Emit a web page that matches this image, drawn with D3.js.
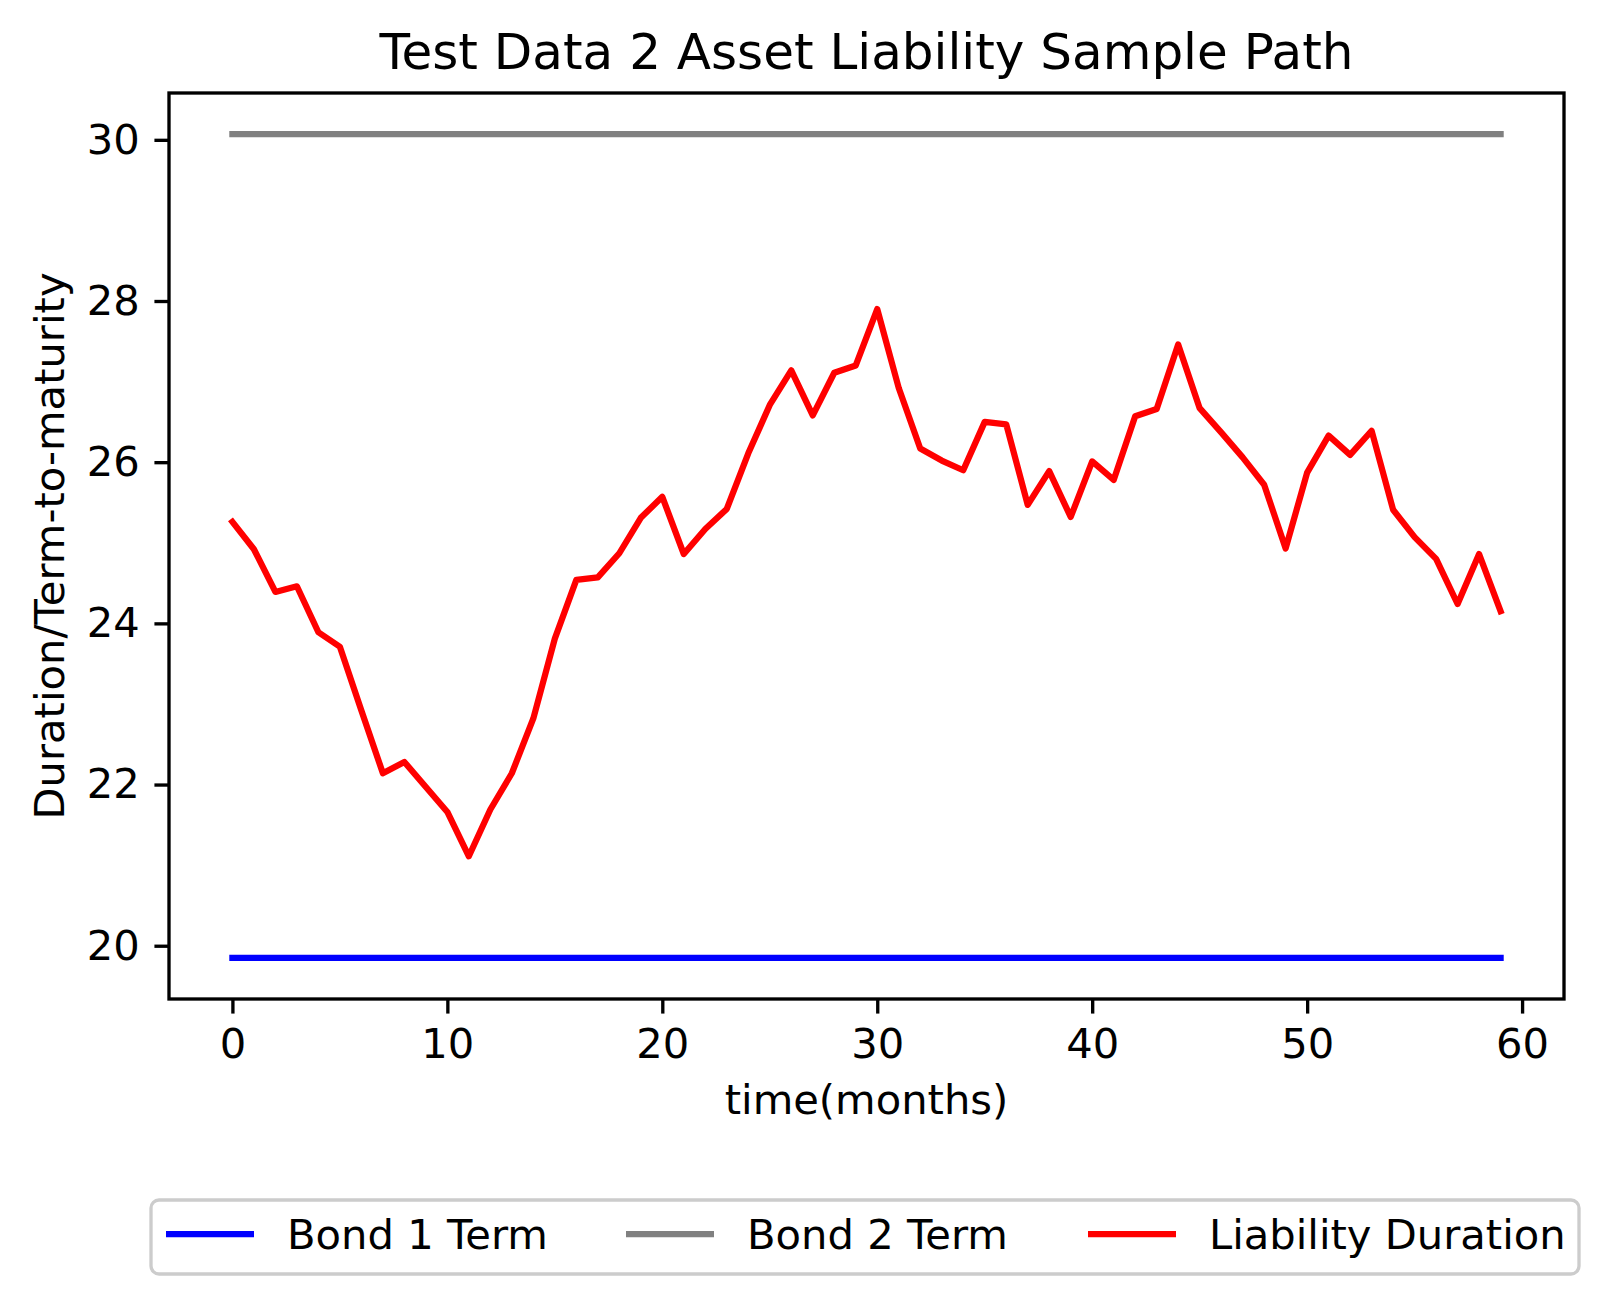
<!DOCTYPE html>
<html>
<head>
<meta charset="utf-8">
<script src="https://cdn.jsdelivr.net/npm/d3@7"></script>
<style>
  body { margin: 0; background: #fff; }
  text { font-family: "DejaVu Sans", sans-serif; fill: #000; }
</style>
</head>
<body>
<div id="chart"></div>
<script>
// data
const months = [0, 1, 2, 3, 4, 5, 6, 7, 8, 9, 10, 11, 12, 13, 14, 15, 16, 17, 18, 19,
    20, 21, 22, 23, 24, 25, 26, 27, 28, 29, 30, 31, 32, 33, 34, 35, 36, 37, 38, 39,
    40, 41, 42, 43, 44, 45, 46, 47, 48, 49, 50, 51, 52, 53, 54, 55, 56, 57, 58, 59];
const bond1Term = 19.85;
const bond2Term = 30.07;
const liabilityDuration = [25.26, 24.92, 24.39, 24.46, 23.89, 23.71, 22.92, 22.14, 22.28, 21.97,
    21.66, 21.11, 21.69, 22.14, 22.82, 23.81, 24.54, 24.57, 24.87, 25.31,
    25.57, 24.86, 25.17, 25.42, 26.11, 26.71, 27.14, 26.58, 27.11, 27.20,
    27.90, 26.92, 26.17, 26.02, 25.90, 26.50, 26.47, 25.47, 25.89, 25.32,
    26.01, 25.78, 26.57, 26.66, 27.46, 26.67, 26.37, 26.06, 25.72, 24.93,
    25.87, 26.33, 26.09, 26.39, 25.41, 25.07, 24.80, 24.24, 24.86, 24.15];
const xTicks = [0, 10, 20, 30, 40, 50, 60];
const yTicks = [20, 22, 24, 26, 28, 30];

const series = [
    { name: "Bond 1 Term", color: "#0000ff", values: months.map(() => bond1Term) },
    { name: "Bond 2 Term", color: "#808080", values: months.map(() => bond2Term) },
    { name: "Liability Duration", color: "#ff0000", values: liabilityDuration }
];

const W = 1610, H = 1304;
const plot = { left: 169, right: 1564, top: 93, bottom: 999 };
const pt = 300 / 72; // one point in pixels

const svg = d3.select("#chart").append("svg")
    .attr("width", W)
    .attr("height", H);

svg.append("rect").attr("width", W).attr("height", H).attr("fill", "#fff");

// matplotlib style 5% margins
const xExt = d3.extent(months);
const xPad = (xExt[1] - xExt[0]) * 0.05;
const allY = series.flatMap(s => s.values);
const yExt = d3.extent(allY);
const yPad = (yExt[1] - yExt[0]) * 0.05;

const x = d3.scaleLinear()
    .domain([xExt[0] - xPad, xExt[1] + xPad])
    .range([plot.left, plot.right]);
const y = d3.scaleLinear()
    .domain([yExt[0] - yPad, yExt[1] + yPad])
    .range([plot.bottom, plot.top]);

const line = d3.line()
    .x((d, i) => x(months[i]))
    .y(d => y(d));

// lines
svg.append("g").selectAll("path")
    .data(series)
    .join("path")
    .attr("d", d => line(d.values))
    .attr("fill", "none")
    .attr("stroke", d => d.color)
    .attr("stroke-width", 1.5 * pt)
    .attr("stroke-linecap", "square")
    .attr("stroke-linejoin", "round");

// axes
const xAxis = svg.append("g")
    .attr("transform", "translate(0," + plot.bottom + ")")
    .call(d3.axisBottom(x).tickValues(xTicks).tickSize(3.5 * pt).tickPadding(3.5 * pt));
const yAxis = svg.append("g")
    .attr("transform", "translate(" + plot.left + ",0)")
    .call(d3.axisLeft(y).tickValues(yTicks).tickSize(3.5 * pt).tickPadding(3.5 * pt));

[xAxis, yAxis].forEach(a => {
    a.select(".domain").remove();
    a.selectAll(".tick line").attr("stroke", "#000").attr("stroke-width", 0.8 * pt);
    a.selectAll(".tick text")
        .style("font-family", "DejaVu Sans")
        .style("font-size", (10 * pt) + "px")
        .attr("fill", "#000");
});

// frame
svg.append("rect")
    .attr("x", plot.left)
    .attr("y", plot.top)
    .attr("width", plot.right - plot.left)
    .attr("height", plot.bottom - plot.top)
    .attr("fill", "none")
    .attr("stroke", "#000")
    .attr("stroke-width", 0.8 * pt);

// title and labels
svg.append("text")
    .attr("x", (plot.left + plot.right) / 2)
    .attr("y", 69)
    .attr("text-anchor", "middle")
    .style("font-size", (12 * pt) + "px")
    .text("Test Data 2 Asset Liability Sample Path");

svg.append("text")
    .attr("x", (plot.left + plot.right) / 2)
    .attr("y", 1114)
    .attr("text-anchor", "middle")
    .style("font-size", (10 * pt) + "px")
    .text("time(months)");

svg.append("text")
    .attr("transform", "translate(64," + (plot.top + plot.bottom) / 2 + ") rotate(-90)")
    .attr("text-anchor", "middle")
    .style("font-size", (10 * pt) + "px")
    .text("Duration/Term-to-maturity");

// legend
const legendBox = { x: 151, y: 1200, w: 1428, h: 74 };
const legend = svg.append("g");
legend.append("rect")
    .attr("x", legendBox.x)
    .attr("y", legendBox.y)
    .attr("width", legendBox.w)
    .attr("height", legendBox.h)
    .attr("rx", 8)
    .attr("fill", "#fff")
    .attr("fill-opacity", 0.8)
    .attr("stroke", "#cccccc")
    .attr("stroke-width", 0.8 * pt);

const legendX = [166, 626, 1088];
const legendItem = legend.selectAll("g.item")
    .data(series)
    .join("g")
    .attr("class", "item")
    .attr("transform", (d, i) => "translate(" + legendX[i] + ",1234)");

legendItem.append("line")
    .attr("x1", 0)
    .attr("x2", 88)
    .attr("stroke", d => d.color)
    .attr("stroke-width", 1.5 * pt);

legendItem.append("text")
    .attr("x", 121)
    .attr("y", 15)
    .style("font-size", (10 * pt) + "px")
    .text(d => d.name);
</script>
</body>
</html>
